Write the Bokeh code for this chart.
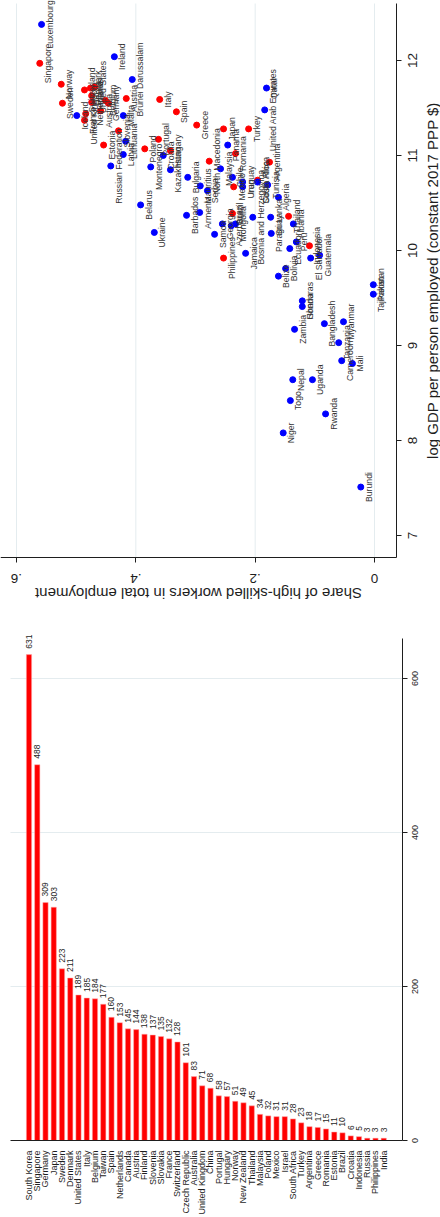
import math
from bokeh.plotting import figure
from bokeh.models import (ColumnDataSource, Range1d, FixedTicker, LabelSet, Label,
                          CustomJSTickFormatter)
from bokeh.layouts import column
from bokeh.core.properties import value
from bokeh.embed import file_html
from bokeh.resources import INLINE

FONT = "Liberation Sans"

# ---------------- scatter data ----------------
names = ["Luxembourg", "Singapore", "Ireland", "Norway", "Brunei Darussalam", "Sweden",
         "Iceland", "Switzerland", "Denmark", "United States", "Netherlands", "United Kingdom",
         "Australia", "Belgium", "Germany", "Austria", "Malta", "Slovenia", "Lithuania",
         "Latvia", "Estonia", "Russian Federation", "Italy", "Spain", "Greece", "Poland",
         "Portugal", "Montenegro", "Hungary", "Croatia", "Kazakhstan", "Bulgaria",
         "North Macedonia", "Serbia", "Mauritius", "Malaysia", "Armenia", "Barbados",
         "Belarus", "Ukraine", "Samoa", "Japan", "Turkey", "Panama", "Romania", "Chile",
         "Mexico", "Uruguay", "Iran", "South Africa", "Costa Rica", "Tunisia", "Algeria",
         "Qatar", "United Arab Emirates", "Azerbaijan", "Mongolia", "Brazil", "Georgia",
         "Philippines", "Jamaica", "Bosnia and Herzegovina", "Sri Lanka", "Paraguay",
         "Thailand", "Albania", "Peru", "Ecuador", "Indonesia", "El Salvador", "Guatemala",
         "Bolivia", "Belize", "Pakistan", "Tajikistan", "Honduras", "Ghana", "Zambia",
         "Bangladesh", "Myanmar", "Tanzania", "Cameroon", "Mali", "Nepal", "Uganda", "Togo",
         "Rwanda", "Niger", "Burundi", "Argentina", "Finland", "France"]
share = [0.558, 0.561, 0.436, 0.525, 0.406, 0.523,
         0.499, 0.486, 0.476, 0.469, 0.474, 0.484,
         0.459, 0.451, 0.446, 0.416, 0.421, 0.429, 0.417,
         0.421, 0.454, 0.442, 0.360, 0.332, 0.298, 0.385,
         0.362, 0.375, 0.342, 0.354, 0.342, 0.313,
         0.277, 0.280, 0.292, 0.258, 0.293, 0.315,
         0.392, 0.369, 0.268, 0.253, 0.211, 0.246, 0.233, 0.238,
         0.236, 0.221, 0.221, 0.196, 0.196, 0.179, 0.161,
         0.181, 0.184, 0.240, 0.233, 0.238, 0.255,
         0.253, 0.216, 0.204, 0.174, 0.173,
         0.144, 0.136, 0.131, 0.142, 0.109, 0.107, 0.092,
         0.149, 0.161, 0.002, 0.002, 0.121, 0.121, 0.134,
         0.084, 0.052, 0.060, 0.055, 0.037, 0.137, 0.104, 0.141,
         0.082, 0.153, 0.023, 0.176, 0.474, 0.486]
log_gdp = [12.38, 11.97, 12.04, 11.75, 11.80, 11.55,
           11.42, 11.69, 11.71, 11.72, 11.56, 11.44,
           11.47, 11.58, 11.55, 11.60, 11.42, 11.26, 11.15,
           11.01, 11.11, 10.89, 11.59, 11.46, 11.32, 11.07,
           11.17, 10.88, 11.05, 11.00, 10.85, 10.77,
           10.94, 10.63, 10.68, 10.86, 10.40, 10.37,
           10.48, 10.19, 10.17, 11.28, 11.28, 11.11, 11.02, 10.77,
           10.67, 10.72, 10.67, 10.74, 10.72, 10.69, 10.56,
           11.71, 11.48, 10.26, 10.28, 10.39, 10.28,
           9.92, 9.97, 10.35, 10.35, 10.18,
           10.36, 10.28, 10.09, 10.02, 10.05, 9.92, 9.95,
           9.81, 9.73, 9.64, 9.54, 9.47, 9.41, 9.17,
           9.23, 9.25, 9.03, 8.84, 8.81, 8.64, 8.64, 8.42,
           8.28, 8.08, 7.51, 10.93, 11.63, 11.37]
group = ["B", "R", "B", "R", "B", "R",
         "B", "R", "R", "R", "R", "R",
         "R", "R", "R", "R", "B", "R", "B",
         "B", "R", "B", "R", "R", "R", "R",
         "R", "B", "R", "B", "B", "B",
         "R", "B", "B", "B", "B", "B",
         "B", "B", "B", "R", "R", "B", "R", "B",
         "R", "B", "B", "R", "B", "B", "B",
         "B", "B", "B", "B", "R", "B",
         "R", "B", "B", "B", "B",
         "R", "B", "B", "B", "R", "B", "B",
         "B", "B", "B", "B", "B", "B", "B",
         "B", "B", "B", "B", "B", "B", "B", "B",
         "B", "B", "B", "R", "R", "R"]
group_colors = {"R": "#ff0000", "B": "#0000ff"}

gdp_ticks = [7, 8, 9, 10, 11, 12]
share_ticks = [0, 0.2, 0.4, 0.6]
share_tick_labels = ["0", ".2", ".4", ".6"]

# ---------------- bar data ----------------
bar_countries = ["South Korea", "Singapore", "Germany", "Japan", "Sweden", "Denmark",
                 "United States", "Italy", "Belgium", "Taiwan", "Spain", "Netherlands",
                 "Canada", "Austria", "Finland", "Slovenia", "Slovakia", "France",
                 "Switzerland", "Czech Republic", "Australia", "United Kingdom", "China",
                 "Portugal", "Hungary", "Norway", "New Zealand", "Thailand", "Malaysia",
                 "Poland", "Mexico", "Israel", "South Africa", "Turkey", "Argentina",
                 "Greece", "Romania", "Estonia", "Brazil", "Croatia", "Indonesia",
                 "Russia", "Philippines", "India"]
robots = [631, 488, 309, 303, 223, 211, 189, 185, 184, 177, 160, 153, 145, 144, 138,
          137, 135, 132, 128, 101, 83, 71, 68, 58, 57, 51, 49, 45, 34, 32, 31, 31, 28,
          23, 18, 17, 15, 11, 10, 6, 5, 3, 3, 3]
robot_ticks = [0, 200, 400, 600]

# ---------------- layout constants (view window / plot region) ----------------
# scatter: frame spans the whole figure; the plot region sits inside it
SC_VIEW_X = (0.6268, -0.1106)      # share shown from left to right edge (reversed)
SC_VIEW_Y = (6.1053, 12.6316)      # log GDP shown from bottom to top edge
SC_REGION_X = (-0.0369, 0.6268)    # plot region along share
SC_REGION_Y = (6.768, 12.6)        # plot region along log GDP
# bars
BAR_VIEW_X = (-3.4545, 49.8788)
BAR_VIEW_Y = (-100.0, 675.3)
BAR_REGION_X = (-2.2424, 45.2727)
BAR_REGION_Y = (0, 652)

AXIS_COLOR = "#1e1e1e"
GRID_COLOR = "#e4ecef"
TEXT_COLOR = "#1e1e1e"


def blank():
    return CustomJSTickFormatter(code="return ''")


def style_axis(ax):
    ax.axis_line_color = AXIS_COLOR
    ax.axis_line_width = 1
    ax.major_tick_line_color = AXIS_COLOR
    ax.major_tick_out = 5
    ax.major_tick_in = 0
    ax.minor_tick_line_color = None


def base_figure(h, xr, yr):
    p = figure(width=440, height=h, x_range=Range1d(*xr), y_range=Range1d(*yr),
               y_axis_location="right", output_backend="svg", toolbar_location=None,
               min_border_left=0, min_border_right=0, min_border_top=0,
               min_border_bottom=0)
    p.outline_line_color = None
    p.background_fill_color = "white"
    p.border_fill_color = "white"
    p.xgrid.visible = False
    p.ygrid.visible = False
    return p


# ---------------- scatter figure ----------------
p1 = base_figure(620, SC_VIEW_X, SC_VIEW_Y)
xa, ya = p1.xaxis[0], p1.yaxis[0]
xa.fixed_location = SC_REGION_Y[0]
xa.bounds = SC_REGION_X
xa.ticker = FixedTicker(ticks=share_ticks)
xa.formatter = blank()
ya.fixed_location = SC_REGION_X[0]
ya.bounds = SC_REGION_Y
ya.ticker = FixedTicker(ticks=gdp_ticks)
ya.formatter = blank()
style_axis(xa)
style_axis(ya)

# vertical grid lines at the share ticks, inside the plot region
p1.segment(x0=share_ticks, x1=share_ticks,
           y0=[SC_REGION_Y[0]] * len(share_ticks), y1=[SC_REGION_Y[1]] * len(share_ticks),
           line_color=GRID_COLOR, line_width=1)

src = ColumnDataSource(dict(x=share, y=log_gdp, name=names,
                            color=[group_colors[g] for g in group]))
p1.scatter("x", "y", source=src, size=6, fill_color="color", line_color="color")
p1.add_layout(LabelSet(x="x", y="y", text="name", source=src, angle=math.pi / 2,
                       x_offset=8, text_align="center", text_baseline="middle",
                       text_font=value(FONT), text_font_size="8.7px",
                       text_color="#333333"))

gdp_tick_src = ColumnDataSource(dict(x=[SC_REGION_X[0]] * len(gdp_ticks), y=gdp_ticks,
                                     t=[str(v) for v in gdp_ticks]))
p1.add_layout(LabelSet(x="x", y="y", text="t", source=gdp_tick_src, angle=math.pi / 2,
                       x_offset=16, text_align="center", text_baseline="middle",
                       text_font=value(FONT), text_font_size="13.5px",
                       text_color=TEXT_COLOR))
share_tick_src = ColumnDataSource(dict(x=share_ticks,
                                       y=[SC_REGION_Y[0]] * len(share_ticks),
                                       t=share_tick_labels))
p1.add_layout(LabelSet(x="x", y="y", text="t", source=share_tick_src, angle=math.pi,
                       y_offset=-21, text_align="center", text_baseline="middle",
                       text_font=value(FONT), text_font_size="13.5px",
                       text_color=TEXT_COLOR))
p1.add_layout(Label(x=sum(SC_REGION_X) / 2, y=SC_REGION_Y[0], y_offset=-36, angle=math.pi,
                    text="Share of high-skilled workers in total employment",
                    text_align="center", text_baseline="middle",
                    text_font=FONT, text_font_size="15px", text_color=TEXT_COLOR))
p1.add_layout(Label(x=SC_REGION_X[0], y=sum(SC_REGION_Y) / 2, x_offset=36,
                    angle=math.pi / 2,
                    text="log GDP per person employed (constant 2017 PPP $)",
                    text_align="center", text_baseline="middle",
                    text_font=FONT, text_font_size="15px", text_color=TEXT_COLOR))

# ---------------- bar figure ----------------
bar_index = list(range(len(bar_countries)))
p2 = base_figure(597, BAR_VIEW_X, BAR_VIEW_Y)
bx, by = p2.xaxis[0], p2.yaxis[0]
bx.fixed_location = BAR_REGION_Y[0]
bx.bounds = BAR_REGION_X
bx.ticker = FixedTicker(ticks=bar_index)
bx.major_label_overrides = {i: c for i, c in zip(bar_index, bar_countries)}
by.fixed_location = BAR_REGION_X[1]
by.bounds = BAR_REGION_Y
by.ticker = FixedTicker(ticks=robot_ticks)
by.formatter = blank()
style_axis(bx)
style_axis(by)
bx.major_tick_line_color = None
bx.major_label_orientation = math.pi / 2
bx.major_label_standoff = 5
bx.major_label_text_font = FONT
bx.major_label_text_font_size = "9px"
bx.major_label_text_color = TEXT_COLOR

grid_vals = [t for t in robot_ticks if t > 0]
p2.segment(x0=[BAR_REGION_X[0]] * len(grid_vals), x1=[BAR_REGION_X[1]] * len(grid_vals),
           y0=grid_vals, y1=grid_vals, line_color=GRID_COLOR, line_width=1)

bar_src = ColumnDataSource(dict(x=bar_index, top=robots, t=[str(v) for v in robots]))
p2.vbar(x="x", top="top", bottom=0, width=0.64, source=bar_src, fill_color="#ff0000",
        line_color="#ffb0b0", line_width=0.5)
p2.add_layout(LabelSet(x="x", y="top", text="t", source=bar_src, angle=math.pi / 2,
                       y_offset=6, text_align="left", text_baseline="middle",
                       text_font=value(FONT), text_font_size="8.5px",
                       text_color=TEXT_COLOR))
robot_tick_src = ColumnDataSource(dict(x=[BAR_REGION_X[1]] * len(robot_ticks),
                                       y=robot_ticks, t=[str(v) for v in robot_ticks]))
p2.add_layout(LabelSet(x="x", y="y", text="t", source=robot_tick_src, angle=math.pi / 2,
                       x_offset=13, text_align="center", text_baseline="middle",
                       text_font=value(FONT), text_font_size="9px",
                       text_color=TEXT_COLOR))

layout = column(p1, p2, spacing=0)
open("out.html", "w").write(file_html(layout, INLINE))
